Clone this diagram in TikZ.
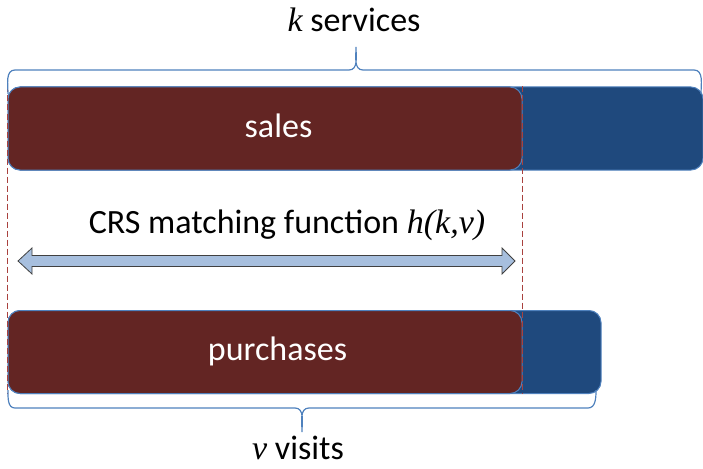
\documentclass[tikz,border=0pt]{standalone}
\usepackage{fontspec}
\setmainfont{Carlito}
\newfontfamily\serifit{Liberation Serif}
\definecolor{barred}{HTML}{632523}
\definecolor{barblue}{HTML}{1F497D}
\definecolor{edgeblue}{HTML}{4F81BD}
\definecolor{arrowfill}{HTML}{A7BFDE}
\definecolor{dashred}{HTML}{A9413E}
\tikzset{
  bar/.style={draw=edgeblue,line width=1pt,rounded corners=12pt,minimum height=83pt,inner sep=0pt},
  brace/.style={draw=edgeblue,line width=1.2pt},
  guide/.style={draw=dashred,line width=1.3pt,dash pattern=on 6pt off 3pt},
  label/.style={inner sep=0pt,anchor=base}
}
\newcommand{\ital}[1]{{\serifit\itshape #1}}
\begin{document}
\begin{tikzpicture}[x=1pt,y=-1pt,font=\fontsize{34}{40}\selectfont]
\useasboundingbox (0,0) rectangle (703,468);
% upper bar
\node[bar,fill=barblue,minimum width=695pt] (salesbg) at (355.5,128.5) {};
\node[bar,fill=barred,minimum width=514pt] (sales) at (265,128.5) {};
% lower bar
\node[bar,fill=barblue,minimum width=593pt] (purchbg) at (304.5,352) {};
\node[bar,fill=barred,minimum width=514pt] (purch) at (265,352) {};
% guides
\draw[guide] (sales.north west) -- (purch.south west);
\draw[guide] (sales.north east) -- (purch.south east);
% braces
\draw[brace] (8,94) to[out=90,in=180] (15,70) -- (349,70)
  to[out=0,in=-90] (356,47) to[out=-90,in=180] (363,70) -- (694,70)
  to[out=0,in=90] (701,94);
\draw[brace] (8,390) to[out=-90,in=180] (15,408) -- (295,408)
  to[out=0,in=90] (302,432) to[out=90,in=180] (309,408) -- (588,408)
  to[out=0,in=-90] (596,390);
% labels
\node[label,text=white] (salestext) at (278.5,137) {sales};
\node[label,text=white] (purchtext) at (277.5,360) {purchases};
\node[label] (ktext) at (354,32) {\ital{k} services};
\node[label] (vtext) at (298,459) {\ital{v} visits};
\node[label] (htext) at (287,233) {CRS matching function \ital{h(k,v)}};
% matching arrow
\draw[draw=black!75,fill=arrowfill,line width=0.8pt,line join=miter]
  (18,261) -- (32,248) -- (32,255.5) -- (502,255.5) -- (502,248)
  -- (515,261) -- (502,274) -- (502,266.5) -- (32,266.5) -- (32,274) -- cycle;
\end{tikzpicture}
\end{document}
